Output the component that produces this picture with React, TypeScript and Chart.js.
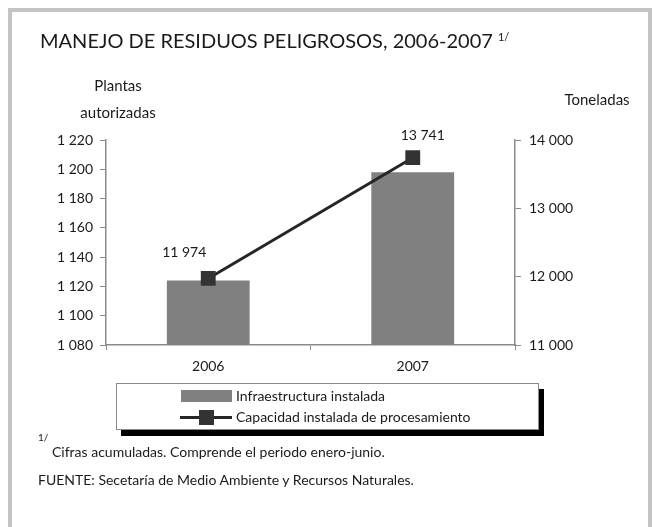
import React, { useEffect, useRef } from "react";
import { Chart, registerables } from "chart.js";

Chart.register(...registerables);

const categories = ["2006", "2007"];
const plantasValues = [1124, 1198];
const capacidadValues = [11974, 13741];
const leftTicks = { min: 1080, max: 1220, step: 20 };
const rightTicks = { min: 11000, max: 14000, step: 1000 };
const seriesNames = ["Infraestructura instalada", "Capacidad instalada de procesamiento"];

const FONT = "Lato, 'Open Sans', sans-serif";

const fmt = (v: number) => {
  const s = Math.round(v).toString();
  return s.replace(/\B(?=(\d{3})+(?!\d))/g, " ");
};

// label placement style (offsets relative to default anchor)
const lineLabelOffsets = [
  { dx: -24, dy: -26 },
  { dx: 10, dy: -22 },
];
const barLabelOffsets = [0, -38];

const labelPlugin = {
  id: "valueLabels",
  afterDatasetsDraw(chart: any) {
    const ctx = chart.ctx;
    ctx.save();
    ctx.font = `14px ${FONT}`;
    ctx.textAlign = "center";
    ctx.textBaseline = "middle";
    const barMeta = chart.getDatasetMeta(0);
    barMeta.data.forEach((el: any, i: number) => {
      const v = chart.data.datasets[0].data[i];
      const mid = (el.y + el.base) / 2 + barLabelOffsets[i];
      ctx.fillStyle = "#e6e6e6";
      ctx.fillText(fmt(v), el.x, mid);
    });
    const lineMeta = chart.getDatasetMeta(1);
    lineMeta.data.forEach((el: any, i: number) => {
      const v = chart.data.datasets[1].data[i];
      ctx.fillStyle = "#1a1a1a";
      ctx.fillText(fmt(v), el.x + lineLabelOffsets[i].dx, el.y + lineLabelOffsets[i].dy);
    });
    ctx.restore();
  },
};

const ChartCanvas: React.FC = () => {
  const ref = useRef<HTMLCanvasElement | null>(null);
  useEffect(() => {
    if (!ref.current) return;
    const chart = new Chart(ref.current, {
      type: "bar",
      data: {
        labels: categories,
        datasets: [
          {
            type: "bar",
            label: seriesNames[0],
            data: plantasValues,
            yAxisID: "y",
            backgroundColor: "#808080",
            borderWidth: 0,
            categoryPercentage: 1,
            barPercentage: 0.405,
            order: 2,
          } as any,
          {
            type: "line",
            label: seriesNames[1],
            data: capacidadValues,
            yAxisID: "y1",
            borderColor: "#262626",
            borderWidth: 3,
            pointStyle: "rect",
            pointRadius: 10.5,
            pointBackgroundColor: "#333333",
            pointBorderColor: "#333333",
            pointBorderWidth: 0,
            order: 1,
          } as any,
        ],
      },
      options: {
        animation: false,
        responsive: false,
        maintainAspectRatio: false,
        layout: { padding: { top: 140, left: 0, right: 0, bottom: 0 } },
        plugins: { legend: { display: false }, tooltip: { enabled: false } },
        scales: {
          x: {
            offset: true,
            grid: { display: true, drawOnChartArea: false, tickLength: 5, color: "#8a8a8a", offset: true },
            border: { color: "#8a8a8a", width: 1.5 },
            ticks: { font: { family: FONT, size: 14 }, color: "#1a1a1a", padding: 8 },
            afterFit: (s: any) => { s.height = 182; },
          },
          y: {
            position: "left",
            min: leftTicks.min,
            max: leftTicks.max,
            grid: { drawOnChartArea: false, tickLength: 6, color: "#8a8a8a" },
            border: { color: "#8a8a8a", width: 1.5 },
            ticks: {
              stepSize: leftTicks.step,
              font: { family: FONT, size: 14 },
              color: "#1a1a1a",
              padding: 7,
              callback: (v: any) => fmt(Number(v)),
            },
            afterFit: (s: any) => { s.width = 106; },
          },
          y1: {
            position: "right",
            min: rightTicks.min,
            max: rightTicks.max,
            grid: { drawOnChartArea: false, tickLength: 6, color: "#8a8a8a" },
            border: { color: "#8a8a8a", width: 1.5 },
            ticks: {
              stepSize: rightTicks.step,
              font: { family: FONT, size: 14 },
              color: "#1a1a1a",
              padding: 8,
              callback: (v: any) => fmt(Number(v)),
            },
            afterFit: (s: any) => { s.width = 143; },
          },
        },
      },
      plugins: [labelPlugin],
    });
    return () => chart.destroy();
  }, []);
  return <canvas ref={ref} width={658} height={527} style={{ position: "absolute", left: 0, top: 0 }} />;
};

const txt: React.CSSProperties = { position: "absolute", fontFamily: FONT, color: "#1a1a1a", whiteSpace: "nowrap", lineHeight: 1 };

export default function App() {
  return (
    <div style={{ position: "fixed", left: 0, top: 0, width: 658, height: 527, background: "#fff", overflow: "hidden" }}>
      <div style={{ position: "absolute", left: 8, top: 8, width: 644, height: 560, border: "4px solid #c4c4c4", boxSizing: "border-box" }} />
      <ChartCanvas />
      <div style={{ ...txt, left: 40, top: 30, fontSize: 20 }}>
        MANEJO DE RESIDUOS PELIGROSOS, 2006-2007 <span style={{ fontSize: 11, position: "relative", top: -7 }}>1/</span>
      </div>
      <div style={{ ...txt, left: 118, top: 78, fontSize: 15, transform: "translateX(-50%)" }}>Plantas</div>
      <div style={{ ...txt, left: 118, top: 105, fontSize: 15, transform: "translateX(-50%)" }}>autorizadas</div>
      <div style={{ ...txt, left: 597, top: 92, fontSize: 15, transform: "translateX(-50%)" }}>Toneladas</div>

      <div style={{ position: "absolute", left: 116, top: 383, width: 423, height: 47, border: "1px solid #8a8a8a", boxSizing: "border-box", background: "#fff", boxShadow: "5px 6px 0 #000" }} />
      <div style={{ position: "absolute", left: 181, top: 390, width: 51, height: 12, background: "#808080" }} />
      <div style={{ ...txt, left: 236, top: 389, fontSize: 14 }}>{seriesNames[0]}</div>
      <div style={{ position: "absolute", left: 180, top: 416, width: 52, height: 3, background: "#262626" }} />
      <div style={{ position: "absolute", left: 199, top: 410, width: 15, height: 15, background: "#333" }} />
      <div style={{ ...txt, left: 236, top: 410, fontSize: 14 }}>{seriesNames[1]}</div>

      <div style={{ ...txt, left: 38, top: 432, fontSize: 10 }}>1/</div>
      <div style={{ ...txt, left: 52, top: 445, fontSize: 14 }}>Cifras acumuladas. Comprende el periodo enero-junio.</div>
      <div style={{ ...txt, left: 38, top: 473, fontSize: 14 }}>FUENTE: Secetaría de Medio Ambiente y Recursos Naturales.</div>
    </div>
  );
}
